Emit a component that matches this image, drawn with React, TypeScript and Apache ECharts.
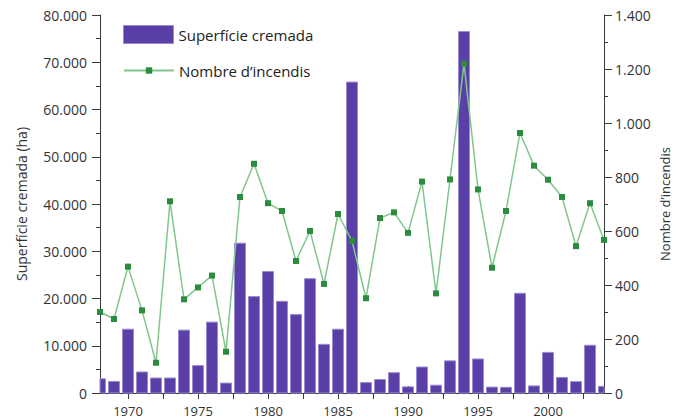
import React, { useEffect, useRef } from "react";
import * as echarts from "echarts";

const years = [1968, 1969, 1970, 1971, 1972, 1973, 1974, 1975, 1976, 1977, 1978, 1979, 1980, 1981, 1982, 1983, 1984, 1985, 1986, 1987, 1988, 1989, 1990, 1991, 1992, 1993, 1994, 1995, 1996, 1997, 1998, 1999, 2000, 2001, 2002, 2003, 2004];

const burnedArea = [3000, 2450, 13500, 4450, 3170, 3170, 13300, 5800, 15000, 2100, 31700, 20400, 25700, 19400, 16600, 24200, 10300, 13500, 65800, 2200, 2850, 4300, 1300, 5500, 1650, 6800, 76500, 7200, 1250, 1200, 21100, 1500, 8600, 3300, 2400, 10100, 1400];

const fireCount = [300, 274, 468, 306, 112, 710, 347, 391, 435, 153, 726, 849, 703, 674, 489, 600, 404, 663, 563, 351, 648, 669, 593, 783, 369, 791, 1220, 754, 464, 674, 963, 842, 790, 726, 544, 703, 567];

const xLabelValues = [1970, 1975, 1980, 1985, 1990, 1995, 2000];
const xTickValues = [1970, 1972.5, 1975, 1977.5, 1980, 1982.5, 1985, 1987.5, 1990, 1992.5, 1995, 1997.5, 2000, 2002.5];

const areaName = "Superfície cremada";
const countName = "Nombre d\u2019incendis";
const leftAxisName = "Superfície cremada (ha)";
const rightAxisName = "Nombre d\u2019incendis";

const FONT = "Open Sans";
const TEXT = "#333333";
const AXIS = "#3a3a3a";
const BAR_FILL = "#5a3fa6";
const BAR_EDGE = "#9a8ad2";

function dotThousands(v: number): string {
  const s = String(Math.round(v));
  return s.replace(/\B(?=(\d{3})+(?!\d))/g, ".");
}

export default function App() {
  const ref = useRef<HTMLDivElement>(null);

  useEffect(() => {
    if (!ref.current) return;
    const chart = echarts.init(ref.current, null, { renderer: "svg" });
    const axisLine = { show: true, lineStyle: { color: AXIS, width: 1 } };
    chart.setOption({
      animation: false,
      backgroundColor: "#ffffff",
      textStyle: { fontFamily: FONT },
      grid: { left: 100, right: 70, top: 15, bottom: 27, containLabel: false, outerBoundsMode: "none" },
      legend: [
        {
          data: [areaName],
          icon: "rect",
          left: 123,
          top: 25,
          padding: 0,
          orient: "vertical",
          itemWidth: 50,
          itemHeight: 18,
          itemStyle: { color: BAR_FILL, borderColor: BAR_EDGE, borderWidth: 1 },
          textStyle: { fontFamily: FONT, fontSize: 15, color: "#222" },
        },
        {
          data: [countName],
          left: 123,
          top: 63,
          padding: 0,
          orient: "vertical",
          itemWidth: 50,
          itemHeight: 8,
          textStyle: { fontFamily: FONT, fontSize: 15, color: "#222" },
        },
      ],
      xAxis: [
        {
          type: "value",
          min: 1968,
          max: 2004,
          position: "bottom",
          axisLine,
          splitLine: { show: false },
          axisTick: { show: true, customValues: xTickValues, length: 6, lineStyle: { color: AXIS } },
          axisLabel: {
            customValues: xLabelValues,
            margin: 11,
            fontSize: 13,
            color: TEXT,
            fontFamily: FONT,
            formatter: (v: number) => String(v),
          },
        },
        {
          type: "value",
          min: 1968,
          max: 2004,
          position: "top",
          axisLine,
          splitLine: { show: false },
          axisTick: { show: true, customValues: xLabelValues, length: 7, lineStyle: { color: AXIS } },
          axisLabel: { show: false },
        },
      ],
      yAxis: [
        {
          type: "value",
          min: 0,
          max: 80000,
          interval: 10000,
          position: "left",
          axisLine,
          splitLine: { show: false },
          axisTick: { show: true, length: 8, lineStyle: { color: AXIS } },
          minorTick: { show: true, splitNumber: 2, length: 4, lineStyle: { color: AXIS } },
          axisLabel: {
            margin: 13,
            fontSize: 14,
            color: TEXT,
            fontFamily: FONT,
            formatter: (v: number) => dotThousands(v),
          },
          name: leftAxisName,
          nameLocation: "middle",
          nameRotate: 90,
          nameGap: 72,
          nameMoveOverlap: false,
          nameTextStyle: { fontSize: 14, color: TEXT, fontFamily: FONT },
        },
        {
          type: "value",
          min: 0,
          max: 1400,
          interval: 200,
          position: "right",
          axisLine,
          splitLine: { show: false },
          axisTick: { show: true, length: 8, lineStyle: { color: AXIS } },
          minorTick: { show: true, splitNumber: 2, length: 4, lineStyle: { color: AXIS } },
          axisLabel: {
            margin: 11,
            fontSize: 14,
            color: TEXT,
            fontFamily: FONT,
            formatter: (v: number) => dotThousands(v),
          },
          name: rightAxisName,
          nameLocation: "middle",
          nameRotate: 90,
          nameGap: 54,
          nameMoveOverlap: false,
          nameTextStyle: { fontSize: 13, color: TEXT, fontFamily: FONT },
        },
      ],
      series: [
        {
          name: areaName,
          type: "custom",
          xAxisIndex: 0,
          yAxisIndex: 0,
          encode: { x: 0, y: 1 },
          data: years.map((y, i) => [y, burnedArea[i]]),
          itemStyle: { color: BAR_FILL },
          z: 2,
          renderItem: (params: any, api: any) => {
            const xv = api.value(0);
            const v = api.value(1);
            const p0 = api.coord([xv, 0]);
            const p1 = api.coord([xv, v]);
            const w = 11;
            const cs = params.coordSys;
            const shape = echarts.graphic.clipRectByRect(
              { x: p0[0] - w / 2, y: p1[1], width: w, height: p0[1] - p1[1] },
              { x: cs.x, y: cs.y, width: cs.width, height: cs.height }
            );
            if (!shape) return null;
            return {
              type: "rect",
              shape,
              style: { fill: BAR_FILL, stroke: BAR_EDGE, lineWidth: 1 },
            };
          },
        },
        {
          name: countName,
          type: "line",
          xAxisIndex: 0,
          yAxisIndex: 1,
          data: years.map((y, i) => [y, fireCount[i]]),
          symbol: "rect",
          symbolSize: 6,
          showAllSymbol: true,
          lineStyle: { color: "#7fc78c", width: 1.5 },
          itemStyle: { color: "#2b8c3e" },
          z: 3,
        },
      ],
    });
    return () => chart.dispose();
  }, []);

  return (
    <div
      ref={ref}
      style={{ position: "fixed", left: 0, top: 0, width: 674, height: 420 }}
    />
  );
}
